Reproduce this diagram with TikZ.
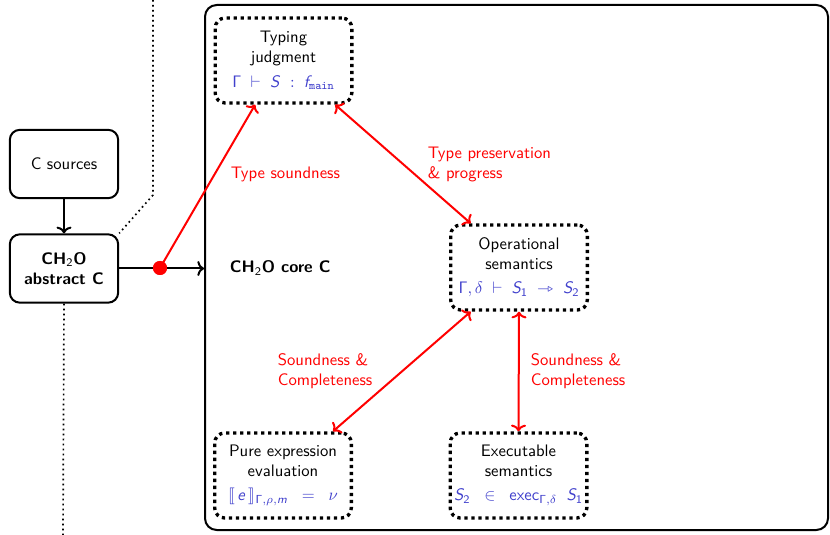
\documentclass[tikz,border=0pt]{standalone}
\usepackage{stmaryrd}
\usetikzlibrary{arrows.meta}
\DeclareMathAlphabet{\msi}{OT1}{cmss}{m}{sl}
\DeclareMathAlphabet{\msu}{OT1}{cmss}{m}{n}
\definecolor{mblue}{RGB}{64,64,204}
\begin{document}
\begin{tikzpicture}[x=0.6pt,y=-0.6pt, font=\sffamily,
  box/.style={draw, very thick, rounded corners=6pt, minimum width=65pt, minimum height=41pt, align=center},
  jbox/.style={draw, line width=2pt, dash pattern=on 2pt off 2.2pt, rounded corners=6pt, minimum width=82pt, minimum height=51pt, align=center, inner sep=2pt},
  frm/.style={draw, very thick, rounded corners=7pt, minimum width=373.8pt, minimum height=315pt},
  arr/.style={very thick, -{To[length=4pt,width=9pt]}},
  rarr/.style={red, very thick, {To[length=4pt,width=9pt]}-{To[length=4pt,width=9pt]}},
  rsarr/.style={red, very thick, -{To[length=4pt,width=9pt]}},
  lbl/.style={red, anchor=west, align=left},
  dotl/.style={line width=1pt, dash pattern=on 1pt off 2pt}]
\useasboundingbox (0,0) rectangle (830,535);
\node[frm] (frame) at (516.5,267.5) {};
\node[box] (src) at (64,164) {C sources};
\node[box, font=\sffamily\bfseries] (abs) at (64,268.5) {CH$_{\msu{2}}$O\\abstract C};
\node[jbox] (typ) at (283.5,60.5) {Typing\\judgment\\[2.5pt] {\color{mblue}$\msu{\Gamma} \;\vdash\; \msi{S} \;:\; \msi{f}_{\mathtt{main}}$}};
\node[jbox] (op) at (519,267.5) {Operational\\semantics\\[2.5pt] {\color{mblue}$\msu{\Gamma}, \delta \;\vdash\; \msi{S}_{\msu{1}} \;\rightarrowtriangle\; \msi{S}_{\msu{2}}$}};
\node[jbox] (pure) at (283,475.5) {Pure expression\\evaluation\\[2.5pt] {\color{mblue}$\llbracket\, \msi{e} \,\rrbracket_{\msu{\Gamma},\rho,\msi{m}} \;\;=\;\; \nu$}};
\node[jbox] (exe) at (518.5,475.5) {Executable\\semantics\\[2.5pt] {\color{mblue}$\msi{S}_{\msu{2}} \;\;\in\;\; \msu{exec}_{\msu{\Gamma},\delta}\;\; \msi{S}_{\msu{1}}$}};
\node[circle, fill=red, minimum size=8.4pt, inner sep=0pt] (dot) at (160,268) {};
\node[anchor=west, font=\sffamily\bfseries] (core) at (224,268) {CH$_{\msu{2}}$O core C};
\node[lbl] (l1) at (225,174) {Type soundness};
\node[lbl] (l2) at (422,164) {Type preservation\\\& progress};
\node[lbl] (l3) at (272,371) {Soundness \&\\Completeness};
\node[lbl] (l4) at (525,371) {Soundness \&\\Completeness};
\coordinate (t) at (153,0);
\coordinate (bnd) at (153,195);
\coordinate (b) at (63,535);
\draw[dotl] (t) -- (bnd) -- (abs.north east);
\draw[dotl] (abs.south) -- (b);
\draw[arr] (src) -- (abs);
\draw[arr] (abs.east) -- (abs.east -| frame.west);
\draw[rsarr] (dot.center) -- ([xshift=-17pt]typ.south);
\node[circle, fill=red, minimum size=8.4pt, inner sep=0pt] at (dot) {};
\draw[rarr] ([xshift=31pt]typ.south) -- ([xshift=-29pt]op.north);
\draw[rarr] ([xshift=-29pt]op.south) -- ([xshift=30pt]pure.north);
\draw[rarr] (op.south) -- (exe.north);
\end{tikzpicture}
\end{document}
